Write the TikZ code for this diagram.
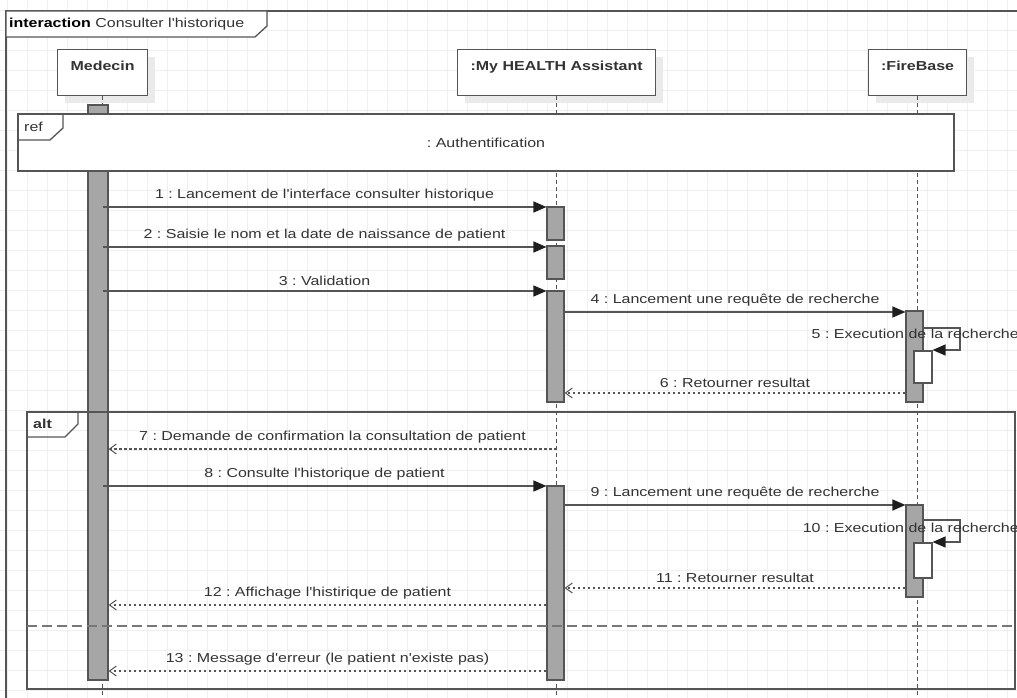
\documentclass[tikz,border=0pt]{standalone}
\usepackage{fontspec}
\setmainfont{Liberation Sans}[FakeStretch=1.23, Ligatures=TeXOff]
\usetikzlibrary{arrows.meta,shadows}
\definecolor{linec}{HTML}{555555}
\definecolor{txtc}{HTML}{333333}
\definecolor{tipc}{HTML}{1E1E1E}
\definecolor{barc}{HTML}{A6A6A6}
\definecolor{gridc}{HTML}{EFEFEF}
\definecolor{shadowc}{HTML}{EAEAEA}
\definecolor{sepc}{HTML}{777777}
\frenchspacing

\begin{document}
\begin{tikzpicture}[x=1pt,y=-1pt,
  every node/.style={font=\fontsize{13}{15}\selectfont, text=txtc},
  headbox/.style={draw=linec, line width=1.2, fill=white, inner xsep=0, inner ysep=3,
    text height=18, text depth=22, minimum height=46, anchor=north west,
    font=\fontsize{13}{15}\selectfont\bfseries,
    drop shadow={shadow xshift=7pt, shadow yshift=-7pt, fill=shadowc, opacity=1}},
  lifeline/.style={draw=linec, line width=1, dash pattern=on 4pt off 3pt},
  actbar/.style={draw=linec, line width=1.1, fill=barc, inner sep=0, minimum width=17},
  nestbar/.style={draw=linec, line width=1.1, fill=white, inner sep=0, minimum width=18},
  framebox/.style={draw=linec, line width=1.3},
  syncmsg/.style={draw=linec, line width=1.2, -{Triangle[length=13pt,width=11pt,color=tipc]}},
  replymsg/.style={draw=linec, line width=1.3, dash pattern=on 2.5pt off 2.5pt,
    -{Straight Barb[length=7pt,width=10pt,line width=1pt]}},
  msglabel/.style={inner sep=0, above=5},
]
\useasboundingbox (0,0) rectangle (1017,698);

% background grid
\foreach \gx in {7,27,...,1007} \draw[gridc, line width=0.9] (\gx,0) -- (\gx,698);
\foreach \gy in {10,30,...,690} \draw[gridc, line width=0.9] (0,\gy) -- (1017,\gy);

% interaction frame and its tab
\draw[framebox] (6,11) rectangle (1040,720);
\draw[framebox, fill=white] (6,11) -- (267,11) -- (267,26) -- (255,37) -- (6,37) -- cycle;
\node[anchor=west, inner sep=0, text=black] (title) at (9,24) {\textbf{interaction} {\color{txtc}Consulter l'historique}};

% lifeline heads
\node[headbox, minimum width=90] (med) at (57,49) {Medecin};
\node[headbox, minimum width=198] (app) at (457,49) {:My HEALTH Assistant};
\node[headbox, minimum width=98] (fb) at (868,49) {:FireBase};

% lifelines
\draw[lifeline] (med.south) -- (med.south |- 0,698);
\draw[lifeline] (app.south) -- (app.south |- 0,698);
\draw[lifeline] (fb.south) -- (fb.south |- 0,698);

% activation bars
\node[actbar, minimum width=20, minimum height=575] (medact) at (98,392.5) {};
\node[actbar, minimum height=33] (a1) at (555.5,223.5) {};
\node[actbar, minimum height=33] (a2) at (555.5,262.5) {};
\node[actbar, minimum height=111] (a3) at (555.5,346.5) {};
\node[actbar, minimum height=194] (a4) at (555.5,583) {};
\node[actbar, minimum height=91] (f1) at (914.5,356.5) {};
\node[actbar, minimum height=92] (f2) at (914.5,551) {};
\node[nestbar, minimum height=32] (n1) at (923,367) {};
\node[nestbar, minimum height=35] (n2) at (923,560.5) {};

% ref fragment
\node[framebox, fill=white, minimum width=936, minimum height=57, inner sep=0] (authref) at (486,142.5) {: Authentification};
\draw[framebox] (authref.north west |- 0,140) -- (50,140) -- (63,128) -- (63,114);
\node[anchor=west, inner sep=0] (reftag) at (24,127) {ref};

% alt fragment
\draw[framebox] (27,412) rectangle (1015,689);
\draw[framebox] (27,437) -- (65,437) -- (78,424) -- (78,412);
\node[anchor=west, inner sep=0, font=\fontsize{13}{15}\selectfont\bfseries] (alttag) at (33,424) {alt};
\draw[sepc, line width=2, dash pattern=on 10pt off 5pt] (27,626) -- (1015,626);

% messages
\draw[syncmsg] (med.south |- 0,207) -- (a1.west |- 0,207)
  node[msglabel, midway] (l1) {1 : Lancement de l'interface consulter historique};
\draw[syncmsg] (med.south |- 0,247) -- (a2.west |- 0,247)
  node[msglabel, midway] (l2) {2 : Saisie le nom et la date de naissance de patient};
\draw[syncmsg] (med.south |- 0,291) -- (a3.west |- 0,291)
  node[msglabel, midway] (l3) {3 : Validation};
\draw[syncmsg] (a3.east |- 0,312) -- (f1.west |- 0,312)
  node[msglabel, midway] (l4) {4 : Lancement une requête de recherche};
\draw[syncmsg] (f1.east |- 0,328) -| (960,350) -- (n1.east |- 0,350);
\node[anchor=east, inner sep=0] (l5) at (1019,334) {5 : Execution de la recherche};
\draw[replymsg] (f1.west |- 0,393) -- (a3.east |- 0,393)
  node[msglabel, midway] (l6) {6 : Retourner resultat};

\draw[replymsg] (app.south |- 0,449) -- (medact.east |- 0,449)
  node[msglabel, midway] (l7) {7 : Demande de confirmation la consultation de patient};
\draw[syncmsg] (med.south |- 0,486) -- (a4.west |- 0,486)
  node[msglabel, midway] (l8) {8 : Consulte l'historique de patient};
\draw[syncmsg] (a4.east |- 0,505) -- (f2.west |- 0,505)
  node[msglabel, midway] (l9) {9 : Lancement une requête de recherche};
\draw[syncmsg] (f2.east |- 0,520) -| (960,542) -- (n2.east |- 0,542);
\node[anchor=east, inner sep=0] (l10) at (1019,528) {10 : Execution de la recherche};
\draw[replymsg] (f2.west |- 0,588) -- (a4.east |- 0,588)
  node[msglabel, midway] (l11) {11 : Retourner resultat};
\draw[replymsg] (a4.west |- 0,605) -- (medact.east |- 0,605)
  node[msglabel, midway] (l12) {12 : Affichage l'histirique de patient};
\draw[replymsg] (a4.west |- 0,671) -- (medact.east |- 0,671)
  node[msglabel, midway] (l13) {13 : Message d'erreur (le patient n'existe pas)};
\end{tikzpicture}
\end{document}
